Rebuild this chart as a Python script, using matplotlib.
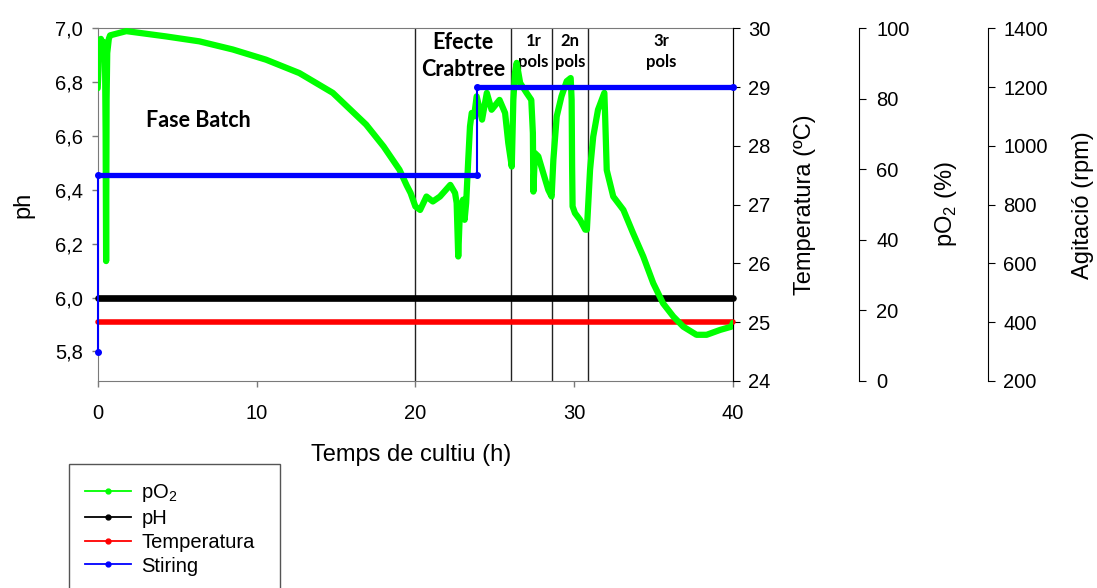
import matplotlib
matplotlib.use("Agg")
import matplotlib.pyplot as plt
from matplotlib.lines import Line2D
from matplotlib.patches import Rectangle
from matplotlib.ticker import FuncFormatter

plt.rcParams['font.family'] = ['Liberation Sans', 'DejaVu Sans']
plt.rcParams['mathtext.fontset'] = 'custom'
plt.rcParams['mathtext.rm'] = 'Liberation Sans'

# ---------------- data ----------------
po2_time = [0.00, 0.05, 0.10, 0.20, 0.30, 0.42, 0.46, 0.50, 0.53, 0.56, 0.60, 0.70, 0.78,
            1.8, 4.3, 6.4, 8.5, 10.6, 12.7, 14.8, 16.9, 18.0, 19.0, 19.45, 19.7, 20.0, 20.3,
            20.7, 21.1, 21.55, 22.2, 22.5, 22.6, 22.7, 22.8, 23.0, 23.1, 23.2, 23.33, 23.44,
            23.55, 23.7, 23.86, 24.2, 24.5, 24.8, 25.3, 25.65, 25.85, 26.07, 26.17, 26.27,
            26.38, 26.6, 27.0, 27.3, 27.4, 27.43, 27.53, 27.74, 28.05, 28.37, 28.58, 28.69,
            28.9, 29.2, 29.53, 29.78, 29.84, 29.87, 29.9, 30.05, 30.37, 30.7, 30.8, 31.0,
            31.2, 31.5, 31.9, 31.95, 32.05, 32.46, 33.1, 33.7, 34.35, 34.98, 35.6, 36.24,
            36.87, 37.7, 38.34, 39.2, 39.9, 40.0]
po2_value = [83, 88, 95, 97, 96, 96, 92, 70, 34, 80, 93, 97, 98,
             99.2, 97.7, 96.3, 94, 91.1, 87.3, 81.7, 72.7, 66.5, 59.9, 55.5, 53.3, 49.5, 48.5,
             52.3, 50.9, 52.3, 55.6, 53.3, 50.5, 35.3, 47.6, 51.4, 45.7, 50.5, 62.7, 72.2,
             76, 75, 80.7, 74.1, 81.7, 76.9, 79.7, 76, 67.5, 60.8, 79.7, 87.3,
             90.2, 84.5, 81.7, 79.7, 70.3, 53.7, 64.6, 63.7, 59, 54.2, 52.3, 62.7,
             75, 80.7, 85, 85.9, 79.7, 60.8, 49.5, 47.6, 45.7, 42.9, 42.9, 59.9,
             69.3, 76.9, 81.7, 75, 59.8, 52.3, 48.5, 42, 35.3, 27.7, 22, 18.3,
             15.4, 13.1, 13.1, 14.5, 15.4, 16.5]

ph_time = [0, 40]
ph_value = [6.0, 6.0]

temp_time = [0, 40]
temp_value = [25.0, 25.0]

stir_time = [0, 0, 23.86, 23.86, 40]
stir_value = [300, 900, 900, 1200, 1200]

phase_lines = [20.0, 26.0, 28.6, 30.9]
phase_labels = ["Efecte\nCrabtree", "1r\npols", "2n\npols", "3r\npols"]
phase_label_x = [23.0, 27.43, 29.74, 35.5]

ph_ticks = [5.8, 6.0, 6.2, 6.4, 6.6, 6.8, 7.0]
temp_ticks = [24, 25, 26, 27, 28, 29, 30]
po2_ticks = [0, 20, 40, 60, 80, 100]
stir_ticks = [200, 400, 600, 800, 1000, 1200, 1400]
x_ticks = [0, 10, 20, 30, 40]

legend_labels = [r"pO$_\mathregular{2}$", "pH", "Temperatura", "Stiring"]

# ---------------- figure ----------------
W, H = 1097, 588
fig = plt.figure(figsize=(W / 100, H / 100), dpi=100)
ax_l, ax_r, ax_t, ax_b = 97.7, 733.0, 28.3, 381.0
ax = fig.add_axes([ax_l / W, 1 - ax_b / H, (ax_r - ax_l) / W, (ax_b - ax_t) / H])

gray = '#7a7a7a'
tick_fs = 14.5
label_fs = 17

def center_label(lbl):
    lbl.set_verticalalignment('center')
    lbl.set_horizontalalignment('center')
    lbl.set_rotation_mode('anchor')

ax.set_xlim(0, 40)
ax.set_ylim(5.69, 7.0)
ax.set_xticks(x_ticks)
ax.set_yticks(ph_ticks)
ax.yaxis.set_major_formatter(FuncFormatter(lambda v, p: f"{v:.1f}".replace('.', ',')))
for s in ['left', 'bottom', 'top']:
    ax.spines[s].set_color(gray)
ax.spines['right'].set_color('black')
ax.tick_params(axis='both', direction='out', length=4.5, width=1, color=gray, labelsize=tick_fs)
ax.tick_params(axis='x', pad=12)
ax.tick_params(axis='y', pad=6)
ax.set_ylabel("ph", fontsize=label_fs)
ax.yaxis.set_label_coords(-0.117, 0.5)
center_label(ax.yaxis.label)
ax.set_xlabel("Temps de cultiu (h)", fontsize=label_fs)
ax.xaxis.set_label_coords(0.493, -0.209)
center_label(ax.xaxis.label)

for x in phase_lines:
    ax.axvline(x, color='#222222', lw=1.0, zorder=1)

ax.plot(ph_time, ph_value, color='black', lw=4.8, solid_capstyle='round', zorder=3, clip_on=False)

# temperature axis
ax_temp = ax.twinx()
ax_temp.set_ylim(24, 30)
ax_temp.set_yticks(temp_ticks)
ax_temp.tick_params(axis='y', direction='out', length=5, color='black', labelsize=tick_fs, pad=6)
for s in ['left', 'bottom', 'top']:
    ax_temp.spines[s].set_visible(False)
ax_temp.set_ylabel("Temperatura (ºC)", fontsize=label_fs)
ax_temp.yaxis.set_label_coords(1.113, 0.5)
center_label(ax_temp.yaxis.label)
ax_temp.plot(temp_time, temp_value, color='#ff0000', lw=4.0, solid_capstyle='round', zorder=3, clip_on=False)

# pO2 axis
ax_po2 = ax.twinx()
ax_po2.spines['right'].set_position(('axes', 1.199))
for s in ['left', 'bottom', 'top']:
    ax_po2.spines[s].set_visible(False)
ax_po2.set_ylim(0, 100)
ax_po2.set_yticks(po2_ticks)
ax_po2.tick_params(axis='y', direction='out', length=5, color='black', labelsize=tick_fs, pad=7)
ax_po2.set_ylabel(r"pO$_\mathregular{2}$ (%)", fontsize=label_fs)
ax_po2.yaxis.set_label_coords(1.336, 0.5)
center_label(ax_po2.yaxis.label)
ax_po2.plot(po2_time, po2_value, color='#00ff00', lw=4.5, solid_joinstyle='round',
            solid_capstyle='round', zorder=3)

# agitation axis
ax_st = ax.twinx()
ax_st.spines['right'].set_position(('axes', 1.401))
for s in ['left', 'bottom', 'top']:
    ax_st.spines[s].set_visible(False)
ax_st.set_ylim(200, 1400)
ax_st.set_yticks(stir_ticks)
ax_st.tick_params(axis='y', direction='out', length=5, color='black', labelsize=tick_fs, pad=6)
ax_st.set_ylabel("Agitació (rpm)", fontsize=label_fs)
ax_st.yaxis.set_label_coords(1.551, 0.5)
center_label(ax_st.yaxis.label)
ax_st.plot(stir_time, stir_value, color='#0000ff', lw=1.5, marker='o', ms=4, zorder=3, clip_on=False)
for i in range(len(stir_time) - 1):
    if stir_value[i] == stir_value[i + 1]:
        ax_st.plot(stir_time[i:i + 2], stir_value[i:i + 2], color='#0000ff', lw=3.8,
                   solid_capstyle='round', zorder=3, clip_on=False)

# annotations
ax.text(6.36, 6.657, "Fase Batch", fontsize=15.5, fontweight='bold', family='Lato',
        ha='center', va='center', zorder=5)
for lab, xl in zip(phase_labels, phase_label_x):
    big = lab.startswith("Efecte")
    ax.text(xl, 6.897 if big else 6.914, lab, fontsize=15.5 if big else 12, fontweight='bold',
            family='Lato', ha='center', va='center', linespacing=1.3 if big else 1.45, zorder=5)

# legend
handles = [Line2D([0], [0], color=c, lw=1.3, marker='o', ms=3.5)
           for c in ['#00ff00', 'black', '#ff0000', '#0000ff']]
fig.legend(handles, legend_labels, loc='upper left', bbox_to_anchor=(85 / W, 1 - 482 / H),
           frameon=False, fontsize=14.5, borderpad=0, borderaxespad=0, handlelength=2.3,
           handletextpad=0.5, labelspacing=0.24)
fig.patches.append(Rectangle((69.3 / W, -0.05), (280 - 69.3) / W, 0.05 + 1 - 464 / H,
                             transform=fig.transFigure, fill=False, edgecolor='#555555', lw=1.0))

fig.savefig("out.png", dpi=100)
